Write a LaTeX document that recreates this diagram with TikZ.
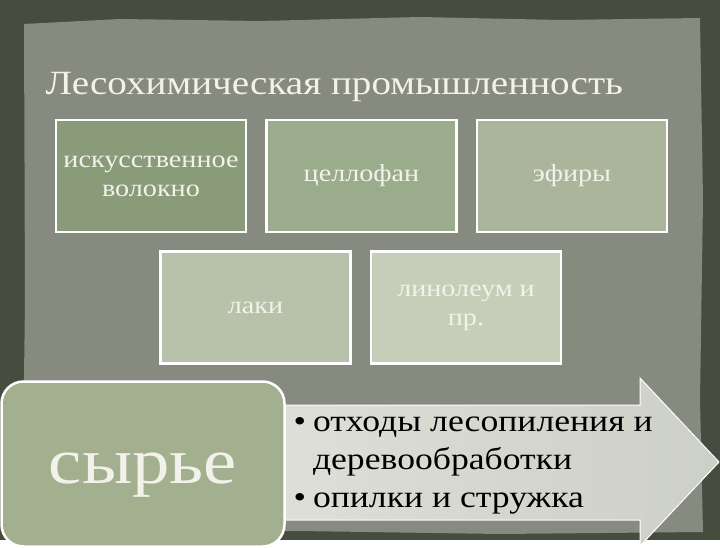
\documentclass[tikz,border=0pt]{standalone}
\usepackage{fontspec}
\setmainfont{Liberation Serif}[FakeStretch=1.15]
\usetikzlibrary{positioning}

\definecolor{frame}{HTML}{474D3E}
\definecolor{paper}{HTML}{878A7F}
\definecolor{titletext}{HTML}{F2F2EA}
\definecolor{fibrefill}{HTML}{8A9B7A}
\definecolor{cellofill}{HTML}{9BAC8C}
\definecolor{etherfill}{HTML}{ABB59B}
\definecolor{varnishfill}{HTML}{B8C1AA}
\definecolor{linofill}{HTML}{C6CDB9}
\definecolor{rawfill}{HTML}{A3B08F}
\definecolor{arrowleft}{HTML}{DEDFD8}
\definecolor{arrowright}{HTML}{CDD0C6}

\begin{document}
\begin{tikzpicture}[x=1pt,y=-1pt,node distance=18pt,
  box/.style={draw=white,line width=2.5pt,minimum width=190pt,
    minimum height=112pt,align=center,text=titletext,
    font=\fontsize{24.5}{29}\selectfont}]

  % background
  \fill[frame] (0,0) rectangle (720,540);
  \fill[paper] (24,24) -- (120,19) -- (260,21) -- (420,17) -- (560,20)
    -- (700,18) -- (703,200) -- (700,400) -- (703,532) -- (500,534)
    -- (300,531) -- (100,534) -- (22,532) -- (25,300) -- cycle;

  \node[anchor=base west,text=titletext,font=\fontsize{34}{40}\selectfont]
    (title) at (42,95) {Лесохимическая промышленность};

  % top rows
  \node[box,fill=fibrefill] (fibre) at (151,176) {искусственное\\волокно};
  \node[box,fill=cellofill] (cellophane) [right=of fibre] {целлофан};
  \node[box,fill=etherfill] (ether) [right=of cellophane] {эфиры};
  \node[box,fill=varnishfill] (varnish) at (255.5,307.5) {лаки};
  \node[box,fill=linofill] (linoleum) [right=of varnish] {линолеум и\\пр.};

  % raw materials
  \filldraw[draw=white,line width=1pt,left color=arrowleft,right color=arrowright]
    (270,405) -- (640,405) -- (640,378) -- (719,462) -- (640,546)
    -- (640,520) -- (270,520) -- cycle;
  \node[draw=white,line width=2.5pt,fill=rawfill,rounded corners=22pt,
    minimum width=283pt,minimum height=165pt] (raw) at (143,464) {};
  \node[anchor=base,text=titletext,font=\fontsize{65}{72}\selectfont]
    (rawtext) at (143,483) {сырье};
  \node[anchor=base west,font=\fontsize{31}{38}\selectfont] (waste) at (290,431)
    {\begin{tabular}[t]{@{}l@{\hspace{7pt}}l@{}}
      • & отходы лесопиления и\\
        & деревообработки\\
      • & опилки и стружка
    \end{tabular}};

\end{tikzpicture}
\end{document}
